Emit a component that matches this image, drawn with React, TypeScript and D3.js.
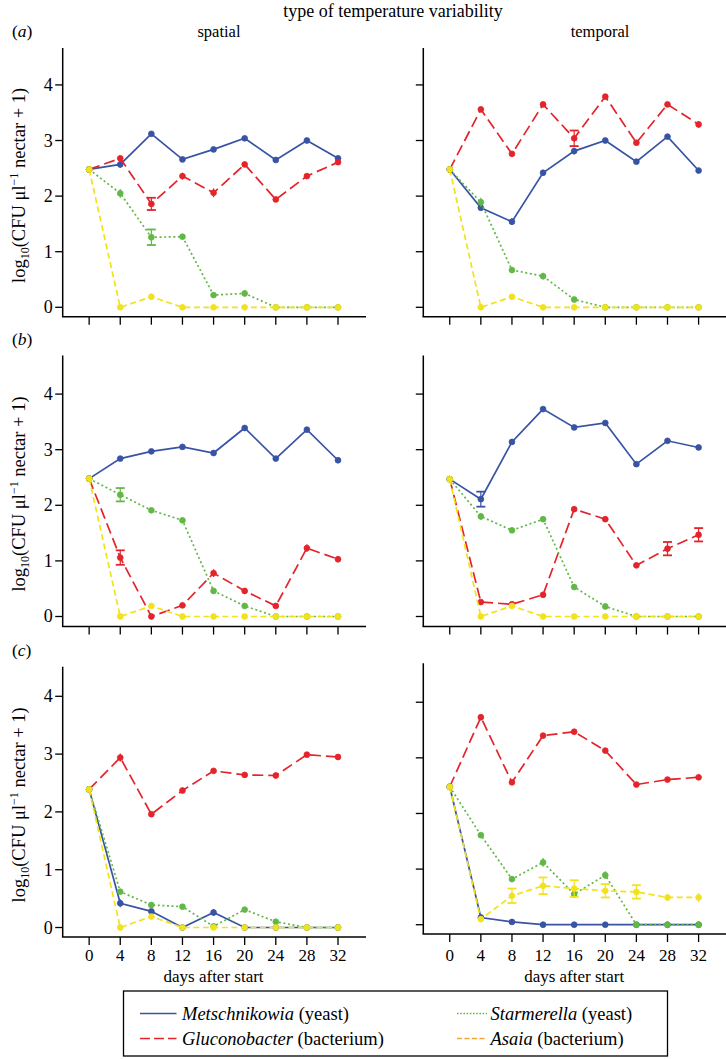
import React from 'react';
import * as d3 from 'd3';

// ---------- data ----------
const days = [0, 4, 8, 12, 16, 20, 24, 28, 32];
const yTickValues = [0, 1, 2, 3, 4];

const seriesNames = ['Metschnikowia', 'Gluconobacter', 'Starmerella', 'Asaia'];
const seriesKinds = ['(yeast)', '(bacterium)', '(yeast)', '(bacterium)'];
const lineColors = ['#3953a4', '#e3242b', '#62b846', '#f2e21c'];
const legendColors = ['#3953a4', '#e3242b', '#62b846', '#f5a535'];
const dashes = ['none', '11,5', '2,2.6', '6,3.5'];

// (a) spatial
const aSpatialMet = [2.48, 2.57, 3.12, 2.66, 2.84, 3.04, 2.65, 3.0, 2.68];
const aSpatialGlu = [2.48, 2.68, 1.86, 2.36, 2.06, 2.57, 1.94, 2.36, 2.61];
const aSpatialSta = [2.48, 2.05, 1.26, 1.27, 0.22, 0.25, 0, 0, 0];
const aSpatialAsa = [2.48, 0, 0.19, 0, 0, 0, 0, 0, 0];
const aSpatialMetSE = [0, 0.06, 0.04, 0.02, 0.03, 0.02, 0.02, 0.02, 0.03];
const aSpatialGluSE = [0, 0.03, 0.11, 0.06, 0.08, 0.03, 0.02, 0.02, 0.03];
const aSpatialStaSE = [0, 0.08, 0.14, 0.03, 0.03, 0.06, 0, 0, 0];
const aSpatialAsaSE = [0, 0, 0.06, 0, 0, 0, 0, 0, 0];

// (a) temporal
const aTemporalMet = [2.48, 1.79, 1.54, 2.42, 2.81, 3.0, 2.62, 3.07, 2.46];
const aTemporalGlu = [2.48, 3.56, 2.76, 3.65, 3.04, 3.79, 2.96, 3.65, 3.29];
const aTemporalSta = [2.48, 1.89, 0.67, 0.56, 0.14, 0, 0, 0, 0];
const aTemporalAsa = [2.48, 0, 0.19, 0, 0, 0, 0, 0, 0];
const aTemporalMetSE = [0, 0.03, 0.06, 0.03, 0.06, 0.02, 0.02, 0.02, 0.05];
const aTemporalGluSE = [0, 0.04, 0.04, 0.02, 0.14, 0.02, 0.02, 0.02, 0.06];
const aTemporalStaSE = [0, 0.08, 0.05, 0.06, 0.03, 0, 0, 0, 0];
const aTemporalAsaSE = [0, 0, 0.03, 0, 0, 0, 0, 0, 0];

// (b) spatial
const bSpatialMet = [2.48, 2.84, 2.97, 3.05, 2.94, 3.39, 2.84, 3.36, 2.81];
const bSpatialGlu = [2.48, 1.06, 0, 0.2, 0.78, 0.46, 0.19, 1.23, 1.03];
const bSpatialSta = [2.48, 2.19, 1.91, 1.73, 0.46, 0.19, 0, 0, 0];
const bSpatialAsa = [2.48, 0, 0.19, 0, 0, 0, 0, 0, 0];
const bSpatialMetSE = [0, 0.04, 0.02, 0.02, 0.02, 0.02, 0.02, 0.02, 0.02];
const bSpatialGluSE = [0, 0.13, 0, 0.04, 0.07, 0.05, 0.03, 0.07, 0.06];
const bSpatialStaSE = [0, 0.12, 0.03, 0.02, 0.05, 0.04, 0, 0, 0];
const bSpatialAsaSE = [0, 0, 0.04, 0, 0, 0, 0, 0, 0];

// (b) temporal
const bTemporalMet = [2.47, 2.11, 3.14, 3.73, 3.4, 3.48, 2.74, 3.16, 3.04];
const bTemporalGlu = [2.47, 0.26, 0.22, 0.39, 1.93, 1.75, 0.92, 1.22, 1.47];
const bTemporalSta = [2.47, 1.8, 1.55, 1.75, 0.53, 0.18, 0, 0, 0];
const bTemporalAsa = [2.47, 0, 0.19, 0, 0, 0, 0, 0, 0];
const bTemporalMetSE = [0, 0.135, 0.02, 0.02, 0.02, 0.02, 0.02, 0.02, 0.04];
const bTemporalGluSE = [0, 0.03, 0.03, 0.03, 0.04, 0.05, 0.05, 0.12, 0.12];
const bTemporalStaSE = [0, 0.06, 0.04, 0.05, 0.03, 0.03, 0, 0, 0];
const bTemporalAsaSE = [0, 0, 0.03, 0, 0, 0, 0, 0, 0];

// (c) spatial
const cSpatialMet = [2.39, 0.42, 0.28, 0, 0.26, 0, 0, 0, 0];
const cSpatialGlu = [2.39, 2.94, 1.96, 2.37, 2.71, 2.64, 2.63, 2.99, 2.95];
const cSpatialSta = [2.39, 0.62, 0.39, 0.36, 0.02, 0.31, 0.1, 0, 0];
const cSpatialAsa = [2.39, 0, 0.19, 0, 0, 0, 0, 0, 0];
const cSpatialMetSE = [0, 0.07, 0.03, 0, 0.06, 0, 0, 0, 0];
const cSpatialGluSE = [0, 0.07, 0.03, 0.03, 0.02, 0.02, 0.02, 0.02, 0.05];
const cSpatialStaSE = [0, 0.04, 0.03, 0.03, 0.02, 0.04, 0.02, 0, 0];
const cSpatialAsaSE = [0, 0, 0.04, 0, 0, 0, 0, 0, 0];

// (c) temporal
const cTemporalMet = [2.48, 0.13, 0.05, 0, 0, 0, 0, 0, 0];
const cTemporalGlu = [2.48, 3.73, 2.56, 3.4, 3.47, 3.13, 2.52, 2.61, 2.65];
const cTemporalSta = [2.48, 1.61, 0.82, 1.12, 0.55, 0.89, 0, 0, 0];
const cTemporalAsa = [2.48, 0.1, 0.52, 0.7, 0.65, 0.61, 0.59, 0.49, 0.49];
const cTemporalMetSE = [0, 0.03, 0.02, 0, 0, 0, 0, 0, 0];
const cTemporalGluSE = [0, 0.04, 0.03, 0.02, 0.02, 0.02, 0.02, 0.02, 0.05];
const cTemporalStaSE = [0, 0.05, 0.05, 0.08, 0.07, 0.07, 0, 0, 0];
const cTemporalAsaSE = [0, 0.05, 0.13, 0.15, 0.15, 0.12, 0.12, 0.06, 0.08];

// ---------- layout ----------
const panels = [
  { label: 'a', col: 0, top: 48, bottom: 316.7, yMin: -0.169, yMax: 4.664, showX: false,
    values: [aSpatialMet, aSpatialGlu, aSpatialSta, aSpatialAsa],
    errors: [aSpatialMetSE, aSpatialGluSE, aSpatialStaSE, aSpatialAsaSE] },
  { label: '', col: 1, top: 48, bottom: 316.7, yMin: -0.169, yMax: 4.664, showX: false,
    values: [aTemporalMet, aTemporalGlu, aTemporalSta, aTemporalAsa],
    errors: [aTemporalMetSE, aTemporalGluSE, aTemporalStaSE, aTemporalAsaSE] },
  { label: 'b', col: 0, top: 355.5, bottom: 626.5, yMin: -0.18, yMax: 4.694, showX: false,
    values: [bSpatialMet, bSpatialGlu, bSpatialSta, bSpatialAsa],
    errors: [bSpatialMetSE, bSpatialGluSE, bSpatialStaSE, bSpatialAsaSE] },
  { label: '', col: 1, top: 355.5, bottom: 626.5, yMin: -0.18, yMax: 4.694, showX: false,
    values: [bTemporalMet, bTemporalGlu, bTemporalSta, bTemporalAsa],
    errors: [bTemporalMetSE, bTemporalGluSE, bTemporalStaSE, bTemporalAsaSE] },
  { label: 'c', col: 0, top: 666.7, bottom: 937, yMin: -0.164, yMax: 4.512, showX: true,
    values: [cSpatialMet, cSpatialGlu, cSpatialSta, cSpatialAsa],
    errors: [cSpatialMetSE, cSpatialGluSE, cSpatialStaSE, cSpatialAsaSE] },
  { label: '', col: 1, top: 663.3, bottom: 934, yMin: -0.167, yMax: 4.7, showX: true,
    values: [cTemporalMet, cTemporalGlu, cTemporalSta, cTemporalAsa],
    errors: [cTemporalMetSE, cTemporalGluSE, cTemporalStaSE, cTemporalAsaSE] },
];

const colX = [
  [62.7, 366],
  [423.3, 726.6],
];

const FONT =
  "'Liberation Serif', 'Tinos', 'Noto Serif', 'DejaVu Serif', 'FreeSerif', 'Nimbus Roman', 'Times New Roman', Times, serif";
const txt = { fontFamily: FONT };

function Panel({ p }: { p: any }) {
  const x = d3.scaleLinear().domain([-3.4, 35.6]).range(colX[p.col]);
  const y = d3.scaleLinear().domain([p.yMin, p.yMax]).range([p.bottom, p.top]);
  const x0 = colX[p.col][0];
  const x1 = colX[p.col][1];
  const order = [0, 1, 2, 3];
  const labelBase = 960.5;
  return (
    <g>
      <line x1={x0} x2={x0} y1={p.top} y2={p.bottom} stroke="#000" strokeWidth={1.5} />
      <line x1={x0 - 0.75} x2={x1} y1={p.bottom} y2={p.bottom} stroke="#000" strokeWidth={1.5} />
      {yTickValues.map((t) => (
        <g key={'yt' + t}>
          <line x1={x0 - 7.5} x2={x0} y1={y(t)} y2={y(t)} stroke="#000" strokeWidth={1.3} />
          {p.col === 0 && (
            <text x={x0 - 10} y={y(t) + 6} textAnchor="end" fontSize={18} style={txt}>
              {t}
            </text>
          )}
        </g>
      ))}
      {days.map((d) => (
        <g key={'xt' + d}>
          <line x1={x(d)} x2={x(d)} y1={p.bottom} y2={p.bottom + 8} stroke="#000" strokeWidth={1.3} />
          {p.showX && (
            <text x={x(d)} y={labelBase} textAnchor="middle" fontSize={17} style={txt}>
              {d}
            </text>
          )}
        </g>
      ))}
      {p.showX && (
        <text x={(x(0) + x(32)) / 2} y={982} textAnchor="middle" fontSize={17} style={txt}>
          days after start
        </text>
      )}
      {p.col === 0 && (
        <text
          transform={`translate(25,${(p.top + p.bottom) / 2 + 3}) rotate(-90)`}
          textAnchor="middle"
          fontSize={18.5}
          style={txt}
        >
          log<tspan fontSize={12} dy={4}>10</tspan>
          <tspan dy={-4}>(CFU μl</tspan>
          <tspan fontSize={12} dy={-7}>−1</tspan>
          <tspan dy={7}> nectar + 1)</tspan>
        </text>
      )}
      {p.label && (
        <text x={12} y={p.top - 11} fontSize={17.5} style={txt}>
          (<tspan fontStyle="italic">{p.label}</tspan>)
        </text>
      )}
      {order.map((si) => {
        const vals: number[] = p.values[si];
        const errs: number[] = p.errors[si];
        const line = d3
          .line<number>()
          .x((_, i) => x(days[i]))
          .y((v) => y(v));
        return (
          <g key={'s' + si}>
            <path
              d={line(vals) || ''}
              fill="none"
              stroke={lineColors[si]}
              strokeWidth={1.7}
              strokeDasharray={dashes[si]}
            />
            {vals.map((v, i) => {
              const e = errs[i];
              const cx = x(days[i]);
              return (
                <g key={i}>
                  {e > 0 && (
                    <g stroke={lineColors[si]} strokeWidth={1.2}>
                      <line x1={cx} x2={cx} y1={y(v - e)} y2={y(v + e)} />
                      {e >= 0.1 && (
                        <>
                          <line x1={cx - 4.5} x2={cx + 4.5} y1={y(v - e)} y2={y(v - e)} strokeWidth={1.8} />
                          <line x1={cx - 4.5} x2={cx + 4.5} y1={y(v + e)} y2={y(v + e)} strokeWidth={1.8} />
                        </>
                      )}
                    </g>
                  )}
                  <circle cx={cx} cy={y(v)} r={2.9} fill={lineColors[si]} stroke={lineColors[si]} strokeWidth={0.8} />
                </g>
              );
            })}
          </g>
        );
      })}
    </g>
  );
}

export default function App() {
  const legendCols = [
    { lx1: 140, lx2: 176.5, tx: 182 },
    { lx1: 457, lx2: 487, tx: 490.5 },
  ];
  const legendRows = [1013.5, 1038.5];
  const legendPos = [
    [0, 0],
    [0, 1],
    [1, 0],
    [1, 1],
  ];
  return (
    <svg
      width={726}
      height={1059}
      style={{ position: 'absolute', left: 0, top: 0, background: '#fff', fontFamily: FONT }}
    >
      <rect x={0} y={0} width={726} height={1059} fill="#fff" />
      <text x={393} y={17} textAnchor="middle" fontSize={18} style={txt}>
        type of temperature variability
      </text>
      <text x={219} y={37} textAnchor="middle" fontSize={16.5} style={txt}>
        spatial
      </text>
      <text x={600} y={37} textAnchor="middle" fontSize={16.5} style={txt}>
        temporal
      </text>
      {panels.map((p, i) => (
        <Panel key={i} p={p} />
      ))}
      <rect x={123.5} y={991} width={544} height={65} fill="none" stroke="#000" strokeWidth={1.3} />
      {seriesNames.map((name, si) => {
        const [c, r] = legendPos[si];
        const col = legendCols[c];
        const ly = legendRows[r];
        return (
          <g key={name}>
            <line
              x1={col.lx1}
              x2={col.lx2}
              y1={ly}
              y2={ly}
              stroke={legendColors[si]}
              strokeWidth={1.7}
              strokeDasharray={si === 3 ? '5,2.5' : si === 2 ? '1.6,1.6' : si === 1 ? '10,4' : dashes[si]}
            />
            <text x={col.tx} y={ly + 6} fontSize={18.5} style={txt}>
              <tspan fontStyle="italic">{name}</tspan> {seriesKinds[si]}
            </text>
          </g>
        );
      })}
    </svg>
  );
}
